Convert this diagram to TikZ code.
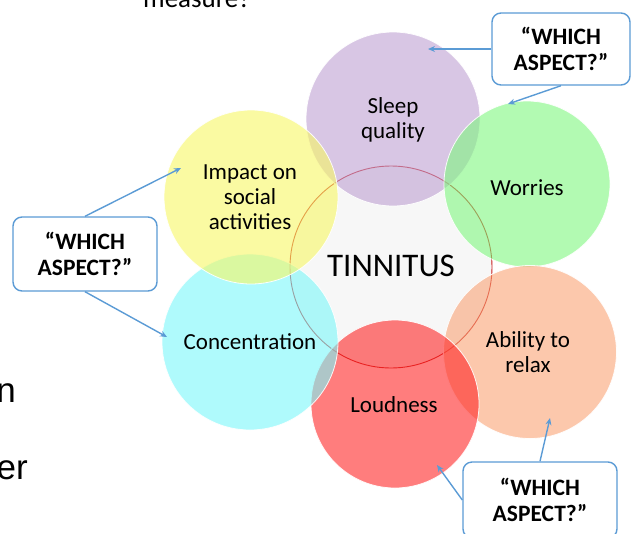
\documentclass[tikz,border=0pt]{standalone}
\usepackage{fontspec}
\setmainfont{Carlito}
\newfontfamily\arialf{Liberation Sans}
\usetikzlibrary{arrows.meta}
\definecolor{purpleC}{RGB}{190,160,210}
\definecolor{yellowC}{RGB}{247,247,100}
\definecolor{cyanC}{RGB}{122,247,250}
\definecolor{greenC}{RGB}{127,247,127}
\definecolor{peachC}{RGB}{250,163,117}
\definecolor{redC}{RGB}{255,38,38}
\definecolor{boxblue}{RGB}{91,155,213}
\definecolor{centerfill}{RGB}{247,247,247}
\definecolor{ringred}{RGB}{200,30,30}
\begin{document}
\begin{tikzpicture}[x=1pt,y=-1pt,
  bubble/.style={circle, draw=white, line width=0.8pt, fill opacity=0.6, draw opacity=0.9, inner sep=0pt},
  lbl/.style={align=center, font=\fontsize{23}{25}\selectfont, text=black},
  askbox/.style={draw=boxblue, line width=1.4pt, rounded corners=9pt, fill=white, align=center, font=\fontsize{23.5}{26}\selectfont\bfseries, inner sep=0pt},
  conn/.style={draw=boxblue, line width=1.4pt, -{Stealth[length=7pt,width=6pt]}}
]
\useasboundingbox (0,0) rectangle (631,533);
\clip (0,0) rectangle (631,533);

% partial slide texts
\node[anchor=base west, inner sep=0pt, font=\fontsize{27}{30}\selectfont] (meas) at (143,7) {measure?};
\node[anchor=base east, inner sep=0pt, font=\arialf\fontsize{35}{40}\selectfont] (fragn) at (16,402) {n};
\node[anchor=base east, inner sep=0pt, font=\arialf\fontsize{35}{40}\selectfont] (frager) at (28,479) {er};

% central circle
\node[circle, draw=ringred, line width=0.9pt, fill=centerfill, minimum size=202pt, inner sep=0pt] (core) at (391,267) {};

% outer circles (drawing order matters for overlaps)
\node[bubble, fill=purpleC, minimum size=174pt] (cSleep) at (393,119) {};
\node[bubble, fill=greenC, minimum size=166pt] (cWorr) at (527,184) {};
\node[bubble, fill=peachC, minimum size=173pt] (cRelax) at (530,352) {};
\node[bubble, fill=redC, minimum size=168pt] (cLoud) at (395,404) {};
\node[bubble, fill=cyanC, minimum size=176pt] (cConc) at (250,342) {};
\node[bubble, fill=yellowC, minimum size=174pt] (cImp) at (251,197) {};

% labels
\node[lbl] (tSleep) at (393,120) {Sleep\\quality};
\node[lbl] (tWorr) at (527,188) {Worries};
\node[lbl] (tRelax) at (528,352) {Ability to\\relax};
\node[lbl] (tLoud) at (394,405) {Loudness};
\node[lbl] (tConc) at (250,342) {Concentration};
\node[lbl] (tImp) at (250,197) {Impact on\\social\\activities};
\node[font=\fontsize{33}{36}\selectfont] (tTin) at (391,266) {TINNITUS};

% callout boxes
\node[askbox, minimum width=144pt, minimum height=74pt] (qL) at (85,254) {“WHICH\\ASPECT?”};
\node[askbox, minimum width=138pt, minimum height=72pt] (qT) at (561,49) {“WHICH\\ASPECT?”};
\node[askbox, minimum width=154pt, minimum height=76pt] (qB) at (540,500) {“WHICH\\ASPECT?”};

% arrow targets
\coordinate (aL1) at (181,168);
\coordinate (aL2) at (167,337);
\coordinate (aT1) at (428,49);
\coordinate (aT2) at (508,104);
\coordinate (aB1) at (550,418);
\coordinate (aB2) at (437,465);

\draw[conn] (qL.north) -- (aL1);
\draw[conn] (qL.south) -- (aL2);
\draw[conn] (qT.west) -- (aT1);
\draw[conn] (qT.south) -- (aT2);
\draw[conn] (qB.north) -- (aB1);
\draw[conn] (qB.west) -- (aB2);
\end{tikzpicture}
\end{document}
